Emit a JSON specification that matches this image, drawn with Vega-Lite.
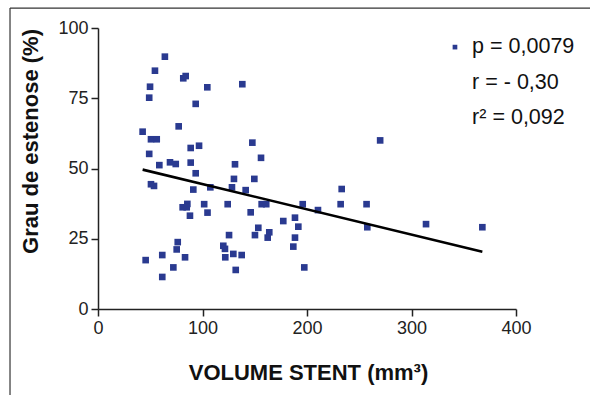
{
  "$schema": "https://vega.github.io/schema/vega-lite/v6.json",
  "width": 418,
  "height": 281,
  "autosize": "none",
  "padding": {"left": 98, "top": 28, "right": 74, "bottom": 86},
  "background": "white",
  "config": {"view": {"stroke": null}, "font": "Liberation Sans"},
  "datasets": {
    "pts": [
      {"volume": 64, "grau": 89.8}, {"volume": 54.5, "grau": 84.8}, {"volume": 81.6, "grau": 82.1}, {"volume": 83.9, "grau": 82.9},
      {"volume": 104.6, "grau": 78.9}, {"volume": 49.8, "grau": 79.1}, {"volume": 49, "grau": 75.2}, {"volume": 93.5, "grau": 73},
      {"volume": 42.7, "grau": 63.1}, {"volume": 77.2, "grau": 65}, {"volume": 50.7, "grau": 60.4}, {"volume": 56.2, "grau": 60.4},
      {"volume": 88.7, "grau": 57.3}, {"volume": 96.7, "grau": 58.1}, {"volume": 49, "grau": 55.2}, {"volume": 58.7, "grau": 51.2},
      {"volume": 68.9, "grau": 52.2}, {"volume": 74.4, "grau": 51.6}, {"volume": 88.7, "grau": 52.1}, {"volume": 93.5, "grau": 48.3},
      {"volume": 50.7, "grau": 44.4}, {"volume": 53.6, "grau": 43.8}, {"volume": 91.2, "grau": 42.5}, {"volume": 107.5, "grau": 43.3},
      {"volume": 81, "grau": 36.2}, {"volume": 85.5, "grau": 37.4}, {"volume": 84.9, "grau": 36.2}, {"volume": 101.6, "grau": 37.3},
      {"volume": 104.8, "grau": 34.3}, {"volume": 88, "grau": 33.2}, {"volume": 76.3, "grau": 23.8}, {"volume": 75.3, "grau": 21.2},
      {"volume": 45.6, "grau": 17.4}, {"volume": 61.5, "grau": 19.2}, {"volume": 83.3, "grau": 18.4}, {"volume": 72.1, "grau": 14.8},
      {"volume": 61.5, "grau": 11.4}, {"volume": 138.1, "grau": 80}, {"volume": 147.7, "grau": 59.2}, {"volume": 156, "grau": 53.8},
      {"volume": 131.1, "grau": 51.5}, {"volume": 130.1, "grau": 46.3}, {"volume": 149.6, "grau": 46.3}, {"volume": 128.2, "grau": 43.3},
      {"volume": 141.3, "grau": 42.3}, {"volume": 195.9, "grau": 37.3}, {"volume": 210.5, "grau": 35.2}, {"volume": 124.1, "grau": 37.3},
      {"volume": 156.6, "grau": 37.3}, {"volume": 161, "grau": 37.3}, {"volume": 146.1, "grau": 34.4}, {"volume": 177.3, "grau": 31.3},
      {"volume": 188.5, "grau": 32.5}, {"volume": 191.7, "grau": 29.3}, {"volume": 125.4, "grau": 26.3}, {"volume": 153.4, "grau": 28.9},
      {"volume": 150.2, "grau": 26.3}, {"volume": 163.9, "grau": 27.3}, {"volume": 162.4, "grau": 25.4}, {"volume": 188.5, "grau": 25.4},
      {"volume": 186.9, "grau": 22.2}, {"volume": 119.9, "grau": 22.5}, {"volume": 121.5, "grau": 21.4}, {"volume": 121.8, "grau": 18.4},
      {"volume": 129.5, "grau": 19.6}, {"volume": 137.5, "grau": 19.2}, {"volume": 131.8, "grau": 13.9}, {"volume": 197.4, "grau": 14.8},
      {"volume": 233.2, "grau": 42.7}, {"volume": 232.2, "grau": 37.3}, {"volume": 257, "grau": 37.3}, {"volume": 257.7, "grau": 29.1},
      {"volume": 313.9, "grau": 30.2}, {"volume": 367.8, "grau": 29.1}, {"volume": 270, "grau": 60}
    ],
    "fit": [
      {"volume": 42.7, "grau": 49.6},
      {"volume": 367.8, "grau": 20.4}
    ]
  },
  "layer": [
    {
      "data": {"name": "pts"},
      "mark": {"type": "point", "shape": "square", "filled": true, "size": 44, "color": "#2a3a90", "opacity": 1},
      "encoding": {
        "x": {
          "field": "volume", "type": "quantitative",
          "scale": {"domain": [0, 400], "nice": false, "zero": false},
          "axis": {
            "values": [0, 100, 200, 300, 400], "grid": false,
            "domainColor": "#222", "domainWidth": 1.5, "tickColor": "#222", "tickWidth": 1.5, "tickSize": 7,
            "labelFontSize": 18, "labelColor": "#222", "labelPadding": 3, "labelFlush": false,
            "title": "VOLUME STENT (mm³)", "titleFontSize": 22, "titleFontWeight": "bold", "titleColor": "#111",
            "titleX": 210, "titleY": 63, "titleBaseline": "middle", "titleAlign": "center"
          }
        },
        "y": {
          "field": "grau", "type": "quantitative",
          "scale": {"domain": [0, 100], "nice": false, "zero": false},
          "axis": {
            "values": [0, 25, 50, 75, 100], "grid": false,
            "domainColor": "#222", "domainWidth": 1.5, "tickColor": "#222", "tickWidth": 1.5, "tickSize": 7,
            "labelFontSize": 18, "labelColor": "#222", "labelPadding": 3, "labelFlush": false,
            "title": "Grau de estenose (%)", "titleFontSize": 22, "titleFontWeight": "bold", "titleColor": "#111",
            "titleX": -68, "titleY": 113, "titleAngle": -90, "titleBaseline": "middle", "titleAlign": "center"
          }
        }
      }
    },
    {
      "data": {"name": "fit"},
      "mark": {"type": "line", "color": "#000", "strokeWidth": 2.6},
      "encoding": {
        "x": {"field": "volume", "type": "quantitative"},
        "y": {"field": "grau", "type": "quantitative"}
      }
    },
    {
      "data": {"values": [{"label": "p = 0,0079"}]},
      "mark": {"type": "point", "shape": "square", "filled": true, "size": 22, "color": "#2a3a90", "opacity": 1},
      "encoding": {"x": {"datum": 341.6, "type": "quantitative"}, "y": {"datum": 93.2, "type": "quantitative"}}
    },
    {
      "data": {"values": [{"label": "p = 0,0079"}]},
      "mark": {"type": "text", "align": "left", "baseline": "middle", "fontSize": 21.5, "color": "#111"},
      "encoding": {"x": {"datum": 358, "type": "quantitative"}, "y": {"datum": 93.2, "type": "quantitative"}, "text": {"field": "label"}}
    },
    {
      "data": {"values": [{"label": "r = - 0,30"}]},
      "mark": {"type": "text", "align": "left", "baseline": "middle", "fontSize": 21.5, "color": "#111"},
      "encoding": {"x": {"datum": 358, "type": "quantitative"}, "y": {"datum": 80.4, "type": "quantitative"}, "text": {"field": "label"}}
    },
    {
      "data": {"values": [{"label": "r² = 0,092"}]},
      "mark": {"type": "text", "align": "left", "baseline": "middle", "fontSize": 21.5, "color": "#111"},
      "encoding": {"x": {"datum": 358, "type": "quantitative"}, "y": {"datum": 68, "type": "quantitative"}, "text": {"field": "label"}}
    },
    {
      "data": {"values": [{"side": "left"}]},
      "mark": {"type": "rule", "color": "#333", "strokeWidth": 1.2},
      "encoding": {"x": {"datum": -84.2, "type": "quantitative"}, "y": {"datum": 107.1, "type": "quantitative"}, "y2": {"datum": -31}}
    },
    {
      "data": {"values": [{"side": "top"}]},
      "mark": {"type": "rule", "color": "#333", "strokeWidth": 1.2},
      "encoding": {"y": {"datum": 107.1, "type": "quantitative"}, "x": {"datum": -84.2, "type": "quantitative"}, "x2": {"datum": 472}}
    }
  ]
}
